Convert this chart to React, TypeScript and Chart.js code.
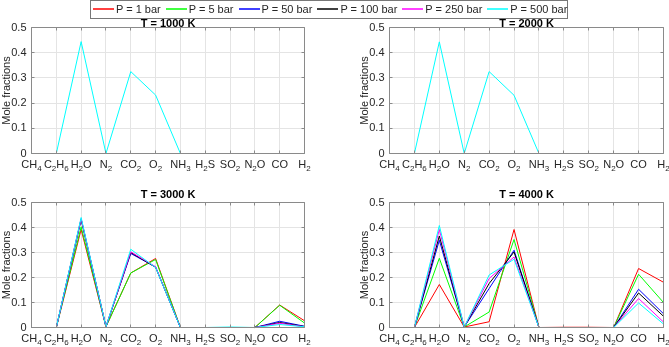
import React, { useEffect, useRef } from 'react';
import { Chart, registerables } from 'chart.js';

Chart.register(...registerables);

// ---------- data ----------
// "_d" marks a subscript digit
const categories = ['CH_4', 'C_2H_6', 'H_2O', 'N_2', 'CO_2', 'O_2', 'NH_3', 'H_2S', 'SO_2', 'N_2O', 'CO', 'H_2'];
const seriesLabels = ['P = 1 bar', 'P = 5 bar', 'P = 50 bar', 'P = 100 bar', 'P = 250 bar', 'P = 500 bar'];
const seriesColors = ['#ff0000', '#00ff00', '#0000ff', '#000000', '#ff00ff', '#00ffff'];
const yTicks = [0, 0.1, 0.2, 0.3, 0.4, 0.5];
const panelTitles = ['T = 1000 K', 'T = 2000 K', 'T = 3000 K', 'T = 4000 K'];

const t1000_p1 = [0, 0, 0.444, 0, 0.325, 0.232, 0, 0, 0, 0, 0, 0];
const t1000_p5 = [0, 0, 0.444, 0, 0.325, 0.232, 0, 0, 0, 0, 0, 0];
const t1000_p50 = [0, 0, 0.444, 0, 0.325, 0.232, 0, 0, 0, 0, 0, 0];
const t1000_p100 = [0, 0, 0.444, 0, 0.325, 0.232, 0, 0, 0, 0, 0, 0];
const t1000_p250 = [0, 0, 0.444, 0, 0.325, 0.232, 0, 0, 0, 0, 0, 0];
const t1000_p500 = [0, 0, 0.444, 0, 0.325, 0.232, 0, 0, 0, 0, 0, 0];

const t2000_p1 = [0, 0, 0.443, 0, 0.325, 0.231, 0, 0, 0, 0, 0, 0];
const t2000_p5 = [0, 0, 0.443, 0, 0.325, 0.231, 0, 0, 0, 0, 0, 0];
const t2000_p50 = [0, 0, 0.443, 0, 0.325, 0.231, 0, 0, 0, 0, 0, 0];
const t2000_p100 = [0, 0, 0.443, 0, 0.325, 0.231, 0, 0, 0, 0, 0, 0];
const t2000_p250 = [0, 0, 0.443, 0, 0.325, 0.231, 0, 0, 0, 0, 0, 0];
const t2000_p500 = [0, 0, 0.443, 0, 0.325, 0.231, 0, 0, 0, 0, 0, 0];

const t3000_p1 = [0, 0, 0.392, 0.003, 0.218, 0.276, 0, 0, 0, 0, 0.09, 0.027];
const t3000_p5 = [0, 0, 0.403, 0.003, 0.218, 0.272, 0, 0, 0, 0, 0.089, 0.018];
const t3000_p50 = [0, 0, 0.432, 0.003, 0.296, 0.242, 0, 0, 0, 0, 0.025, 0.005];
const t3000_p100 = [0, 0, 0.434, 0.003, 0.3, 0.241, 0, 0, 0, 0, 0.02, 0.004];
const t3000_p250 = [0, 0, 0.436, 0.003, 0.303, 0.243, 0, 0, 0, 0, 0.017, 0.003];
const t3000_p500 = [0, 0, 0.44, 0.003, 0.313, 0.24, 0, 0, 0.002, 0, 0.012, 0.003];

const t4000_p1 = [0, 0, 0.172, 0.002, 0.023, 0.392, 0, 0.001, 0.001, 0, 0.236, 0.181];
const t4000_p5 = [0, 0, 0.277, 0.002, 0.062, 0.352, 0, 0, 0, 0, 0.213, 0.1];
const t4000_p50 = [0, 0, 0.349, 0.002, 0.156, 0.309, 0, 0, 0, 0, 0.153, 0.055];
const t4000_p100 = [0, 0, 0.366, 0.002, 0.176, 0.302, 0, 0, 0, 0, 0.138, 0.045];
const t4000_p250 = [0, 0, 0.392, 0.002, 0.196, 0.282, 0, 0, 0, 0, 0.116, 0.022];
const t4000_p500 = [0, 0, 0.408, 0.002, 0.21, 0.273, 0, 0, 0, 0, 0.098, 0.014];

const panelSeries = [
  [t1000_p1, t1000_p5, t1000_p50, t1000_p100, t1000_p250, t1000_p500],
  [t2000_p1, t2000_p5, t2000_p50, t2000_p100, t2000_p250, t2000_p500],
  [t3000_p1, t3000_p5, t3000_p50, t3000_p100, t3000_p250, t3000_p500],
  [t4000_p1, t4000_p5, t4000_p50, t4000_p100, t4000_p250, t4000_p500],
];

// ---------- styling ----------
const FONT = '"Liberation Sans", Arial, Helvetica, sans-serif';
const TEXT = '#262626';
const GRID = '#e4e4e4';
const BOX = '#8a8a8a';

type Layout = { left: number; top: number; width: number; height: number; padTop: number; padRight: number; xh: number; titleGap: number };

const layouts: Layout[] = [
  { left: 0, top: 0, width: 334, height: 173, padTop: 27.5, padRight: 29.5, xh: 19.5, titleGap: 0.5 },
  { left: 358, top: 0, width: 311, height: 173, padTop: 27.5, padRight: 5.5, xh: 19.5, titleGap: 0.5 },
  { left: 0, top: 173, width: 334, height: 174, padTop: 29.5, padRight: 29.5, xh: 19.5, titleGap: 4.5 },
  { left: 358, top: 173, width: 311, height: 174, padTop: 29.5, padRight: 5.5, xh: 19.5, titleGap: 4.5 },
];

function parseLabel(s: string): { t: string; sub: boolean }[] {
  const out: { t: string; sub: boolean }[] = [];
  let i = 0;
  while (i < s.length) {
    if (s[i] === '_' && i + 1 < s.length) {
      out.push({ t: s[i + 1], sub: true });
      i += 2;
    } else {
      const last = out[out.length - 1];
      if (last && !last.sub) last.t += s[i];
      else out.push({ t: s[i], sub: false });
      i += 1;
    }
  }
  return out;
}

function sameData(a: number[], b: number[]) {
  if (a.length !== b.length) return false;
  for (let i = 0; i < a.length; i++) if (a[i] !== b[i]) return false;
  return true;
}

function Panel({ idx }: { idx: number }) {
  const ref = useRef<HTMLCanvasElement | null>(null);
  const lay = layouts[idx];
  useEffect(() => {
    const canvas = ref.current;
    if (!canvas) return;
    const series = panelSeries[idx];
    const title = panelTitles[idx];
    const framePlugin = {
      id: 'frame' + idx,
      // a series lying exactly under a later (opaque) one is fully hidden, as in the original
      beforeDatasetDraw(chart: any, args: any) {
        const ds = chart.data.datasets;
        const i = args.index;
        for (let j = i + 1; j < ds.length; j++) {
          if (sameData(ds[i].data, ds[j].data)) return false;
        }
        return true;
      },
      afterDraw(chart: any) {
        const ctx = chart.ctx as CanvasRenderingContext2D;
        const { left, right, top, bottom } = chart.chartArea;
        const xs = chart.scales.x;
        const ys = chart.scales.y;
        ctx.save();
        ctx.strokeStyle = BOX;
        ctx.lineWidth = 1;
        const l = Math.floor(left) + 0.5, r = Math.floor(right) + 0.5, t = Math.floor(top) + 0.5, b = Math.floor(bottom) + 0.5;
        ctx.beginPath();
        ctx.moveTo(l, t); ctx.lineTo(r, t); ctx.lineTo(r, b); ctx.lineTo(l, b); ctx.closePath();
        ctx.stroke();
        ctx.beginPath();
        categories.forEach((_, i) => {
          const px = Math.floor(xs.getPixelForValue(i)) + 0.5;
          ctx.moveTo(px, b); ctx.lineTo(px, b - 3);
          ctx.moveTo(px, t); ctx.lineTo(px, t + 3);
        });
        yTicks.forEach((v) => {
          const py = Math.floor(ys.getPixelForValue(v)) + 0.5;
          ctx.moveTo(l, py); ctx.lineTo(l + 3, py);
          ctx.moveTo(r, py); ctx.lineTo(r - 3, py);
        });
        ctx.stroke();
        ctx.fillStyle = '#000';
        ctx.font = 'bold 11px ' + FONT;
        ctx.textAlign = 'center';
        ctx.textBaseline = 'alphabetic';
        ctx.fillText(title, (left + right) / 2, top - lay.titleGap);
        ctx.fillStyle = TEXT;
        ctx.textAlign = 'left';
        const mainFont = '11px ' + FONT;
        const subFont = '8px ' + FONT;
        categories.forEach((c, i) => {
          const parts = parseLabel(c);
          let w = 0;
          parts.forEach((p) => {
            ctx.font = p.sub ? subFont : mainFont;
            w += ctx.measureText(p.t).width;
          });
          let x = xs.getPixelForValue(i) - w / 2;
          const base = bottom + 14;
          parts.forEach((p) => {
            ctx.font = p.sub ? subFont : mainFont;
            ctx.fillText(p.t, x, p.sub ? base + 3 : base);
            x += ctx.measureText(p.t).width;
          });
        });
        ctx.font = '11px ' + FONT;
        ctx.textAlign = 'center';
        ctx.textBaseline = 'middle';
        ctx.translate(left - 25, (top + bottom) / 2);
        ctx.rotate(-Math.PI / 2);
        ctx.fillText('Mole fractions', 0, 0);
        ctx.restore();
      },
    };
    const chart = new Chart(canvas, {
      type: 'line',
      data: {
        labels: categories,
        datasets: series.map((d, i) => ({
          label: seriesLabels[i],
          data: d,
          borderColor: seriesColors[i],
          backgroundColor: seriesColors[i],
          borderWidth: 1,
          pointRadius: 0,
          tension: 0,
          fill: false,
          clip: 3,
          order: series.length - i,
        })),
      },
      options: {
        animation: false,
        responsive: false,
        maintainAspectRatio: false,
        events: [],
        layout: { padding: { left: 0, right: lay.padRight, top: lay.padTop, bottom: 0 } },
        plugins: { legend: { display: false }, title: { display: false }, tooltip: { enabled: false } },
        scales: {
          x: {
            type: 'category',
            grid: { color: GRID, drawTicks: false, lineWidth: 1 },
            border: { display: false },
            ticks: { display: false },
            afterFit: (s: any) => { s.height = lay.xh; },
          },
          y: {
            min: 0,
            max: 0.5,
            ticks: { stepSize: 0.1, font: { family: FONT, size: 11 }, color: TEXT, padding: 5 },
            grid: { color: GRID, drawTicks: false, lineWidth: 1 },
            border: { display: false },
            afterFit: (s: any) => { s.width = 31.5; },
          },
        },
      } as any,
      plugins: [framePlugin],
    });
    return () => chart.destroy();
  }, [idx]);
  return (
    <canvas
      ref={ref}
      width={lay.width}
      height={lay.height}
      style={{ position: 'absolute', left: lay.left, top: lay.top, width: lay.width, height: lay.height }}
    />
  );
}

function Legend() {
  return (
    <div
      style={{
        position: 'absolute', left: 90, top: 0, width: 478, height: 19, boxSizing: 'border-box',
        border: '1px solid #777', background: '#fff', font: '11px ' + FONT, color: TEXT, zIndex: 2,
        whiteSpace: 'nowrap', lineHeight: '17px', paddingLeft: 2,
      }}
    >
      {seriesLabels.map((l, i) => (
        <span key={l} style={{ display: 'inline-block', marginRight: i < seriesLabels.length - 1 ? 5 : 0, verticalAlign: 'top' }}>
          <span
            style={{
              display: 'inline-block', width: 21, height: 2, background: seriesColors[i], opacity: 0.75,
              marginRight: 2, verticalAlign: 'top', marginTop: 7,
            }}
          />
          <span style={{ verticalAlign: 'top' }}>{l}</span>
        </span>
      ))}
    </div>
  );
}

export default function App() {
  return (
    <div style={{ position: 'absolute', left: 0, top: 0, width: 669, height: 347, background: '#fff', overflow: 'hidden' }}>
      {[0, 1, 2, 3].map((i) => <Panel key={i} idx={i} />)}
      <Legend />
    </div>
  );
}
